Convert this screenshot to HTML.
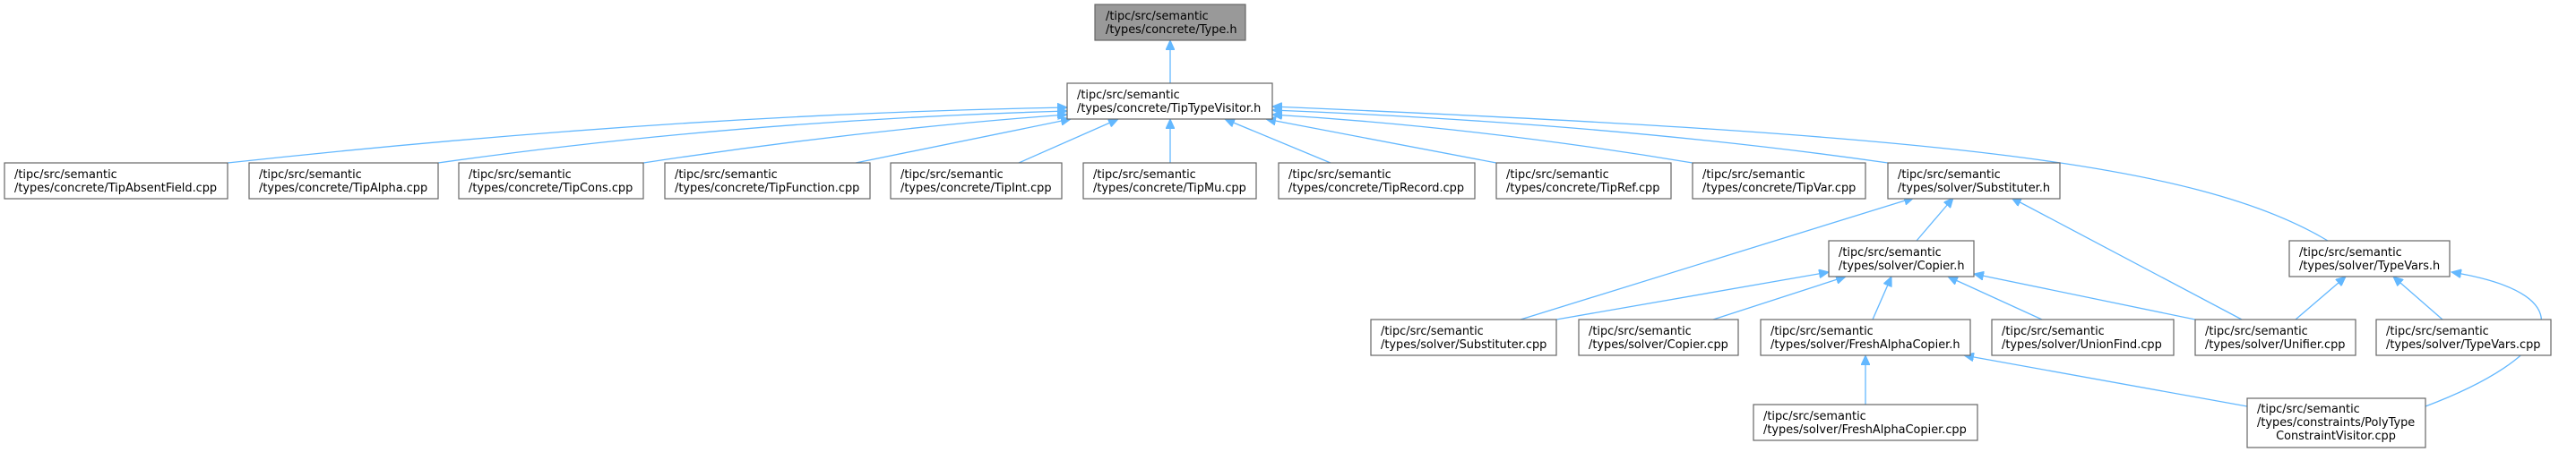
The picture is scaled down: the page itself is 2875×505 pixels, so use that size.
<!DOCTYPE html>
<html><head><meta charset="utf-8"><style>
html,body{margin:0;padding:0;background:#fff;width:2875px;height:505px;overflow:hidden}
text{font-family:"DejaVu Sans","Liberation Sans",sans-serif;font-size:12.9px;fill:#000}
.b{fill:#fff;stroke:#666;stroke-width:1.2}
.e{fill:none;stroke:#63b8ff;stroke-width:1.3;marker-end:url(#a)}
</style></head><body>
<svg width="2875" height="505" xmlns="http://www.w3.org/2000/svg">
<defs><marker id="a" markerUnits="userSpaceOnUse" markerWidth="12" markerHeight="10" refX="11" refY="5" orient="auto"><path d="M0,0L11,5L0,10z" fill="#63b8ff" stroke="#63b8ff"/></marker></defs>
<g>
<path class="e" d="M1306,93L1306,45"/>
<path class="e" d="M254,182Q750,128 1191,120"/>
<path class="e" d="M489,182Q820,135 1191,124"/>
<path class="e" d="M718,182Q960,145 1191,128"/>
<path class="e" d="M955,182L1195,133"/>
<path class="e" d="M1137,182L1248,133"/>
<path class="e" d="M1306,182L1306,133"/>
<path class="e" d="M1485,182L1367,133"/>
<path class="e" d="M1670,182L1413,133"/>
<path class="e" d="M1889,182Q1650,142 1420,128"/>
<path class="e" d="M2107,182Q1800,138 1420,123"/>
<path class="e" d="M2598,269C2450,180 2150,150 1420,119"/>
<path class="e" d="M1697,357L2136,221"/>
<path class="e" d="M2139,269L2180,221"/>
<path class="e" d="M2502,357L2245,221"/>
<path class="e" d="M1737,357L2041,304"/>
<path class="e" d="M1912,357L2060,309"/>
<path class="e" d="M2090,357L2111,309"/>
<path class="e" d="M2279,357L2174,309"/>
<path class="e" d="M2450,357L2203,306"/>
<path class="e" d="M2562,357L2618,309"/>
<path class="e" d="M2726,357L2671,309"/>
<path class="e" d="M2082,452L2082,397"/>
<path class="e" d="M2508,454L2192,397"/>
<path class="e" d="M2707,454C2850,400 2895,330 2736,304"/>
</g>
<g>
<rect x="1222" y="5" width="168" height="40" fill="#999" stroke="#666" stroke-width="1.2"/>
<text x="1234" y="22">/tipc/src/semantic</text><text x="1234" y="37">/types/concrete/Type.h</text>

<rect class="b" x="1191" y="93" width="229" height="40"/>
<text x="1202" y="110">/tipc/src/semantic</text><text x="1202" y="125">/types/concrete/TipTypeVisitor.h</text>

<rect class="b" x="5" y="182" width="249" height="40"/><text x="16" y="199">/tipc/src/semantic</text><text x="16" y="214">/types/concrete/TipAbsentField.cpp</text>
<rect class="b" x="278" y="182" width="211" height="40"/><text x="289" y="199">/tipc/src/semantic</text><text x="289" y="214">/types/concrete/TipAlpha.cpp</text>
<rect class="b" x="512" y="182" width="206" height="40"/><text x="523" y="199">/tipc/src/semantic</text><text x="523" y="214">/types/concrete/TipCons.cpp</text>
<rect class="b" x="742" y="182" width="229" height="40"/><text x="753" y="199">/tipc/src/semantic</text><text x="753" y="214">/types/concrete/TipFunction.cpp</text>
<rect class="b" x="994" y="182" width="191" height="40"/><text x="1005" y="199">/tipc/src/semantic</text><text x="1005" y="214">/types/concrete/TipInt.cpp</text>
<rect class="b" x="1209" y="182" width="193" height="40"/><text x="1220" y="199">/tipc/src/semantic</text><text x="1220" y="214">/types/concrete/TipMu.cpp</text>
<rect class="b" x="1427" y="182" width="219" height="40"/><text x="1438" y="199">/tipc/src/semantic</text><text x="1438" y="214">/types/concrete/TipRecord.cpp</text>
<rect class="b" x="1670" y="182" width="195" height="40"/><text x="1681" y="199">/tipc/src/semantic</text><text x="1681" y="214">/types/concrete/TipRef.cpp</text>
<rect class="b" x="1889" y="182" width="193" height="40"/><text x="1900" y="199">/tipc/src/semantic</text><text x="1900" y="214">/types/concrete/TipVar.cpp</text>
<rect class="b" x="2107" y="182" width="192" height="40"/><text x="2118" y="199">/tipc/src/semantic</text><text x="2118" y="214">/types/solver/Substituter.h</text>

<rect class="b" x="2041" y="269" width="162" height="40"/><text x="2052" y="286">/tipc/src/semantic</text><text x="2052" y="301">/types/solver/Copier.h</text>
<rect class="b" x="2555" y="269" width="179" height="40"/><text x="2566" y="286">/tipc/src/semantic</text><text x="2566" y="301">/types/solver/TypeVars.h</text>

<rect class="b" x="1530" y="357" width="207" height="40"/><text x="1541" y="374">/tipc/src/semantic</text><text x="1541" y="389">/types/solver/Substituter.cpp</text>
<rect class="b" x="1762" y="357" width="178" height="40"/><text x="1773" y="374">/tipc/src/semantic</text><text x="1773" y="389">/types/solver/Copier.cpp</text>
<rect class="b" x="1965" y="357" width="234" height="40"/><text x="1976" y="374">/tipc/src/semantic</text><text x="1976" y="389">/types/solver/FreshAlphaCopier.h</text>
<rect class="b" x="2223" y="357" width="203" height="40"/><text x="2234" y="374">/tipc/src/semantic</text><text x="2234" y="389">/types/solver/UnionFind.cpp</text>
<rect class="b" x="2450" y="357" width="179" height="40"/><text x="2461" y="374">/tipc/src/semantic</text><text x="2461" y="389">/types/solver/Unifier.cpp</text>
<rect class="b" x="2652" y="357" width="195" height="40"/><text x="2663" y="374">/tipc/src/semantic</text><text x="2663" y="389">/types/solver/TypeVars.cpp</text>

<rect class="b" x="1957" y="452" width="250" height="40"/><text x="1968" y="469">/tipc/src/semantic</text><text x="1968" y="484">/types/solver/FreshAlphaCopier.cpp</text>
<rect class="b" x="2508" y="445" width="199" height="55"/><text x="2519" y="461">/tipc/src/semantic</text><text x="2519" y="476">/types/constraints/PolyType</text><text x="2607" y="491" text-anchor="middle">ConstraintVisitor.cpp</text>
</g>
</svg>
</body></html>
